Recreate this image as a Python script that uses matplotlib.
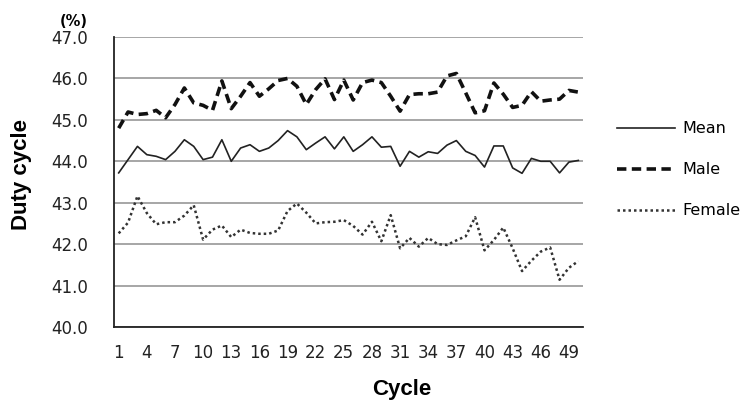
import numpy as np
import matplotlib
matplotlib.use("Agg")
import matplotlib.pyplot as plt

# ---- data ----
cycles = np.arange(1, 51)

mean = [43.72, 44.04, 44.36, 44.16, 44.12, 44.04, 44.24, 44.52, 44.36, 44.04,
        44.10, 44.52, 44.00, 44.32, 44.40, 44.24, 44.32, 44.50, 44.74, 44.59,
        44.28, 44.44, 44.59, 44.30, 44.59, 44.24, 44.40, 44.59, 44.34, 44.36,
        43.88, 44.24, 44.10, 44.23, 44.19, 44.39, 44.50, 44.24, 44.14, 43.86,
        44.37, 44.37, 43.84, 43.71, 44.07, 44.00, 44.00, 43.72, 43.98, 44.02]

male = [44.80, 45.19, 45.13, 45.15, 45.23, 45.05, 45.37, 45.77, 45.41, 45.35,
        45.23, 45.94, 45.27, 45.57, 45.90, 45.57, 45.75, 45.95, 46.00, 45.81,
        45.37, 45.73, 45.99, 45.49, 45.96, 45.48, 45.90, 45.96, 45.90, 45.57,
        45.21, 45.61, 45.63, 45.63, 45.67, 46.06, 46.12, 45.65, 45.17, 45.22,
        45.89, 45.62, 45.30, 45.35, 45.68, 45.45, 45.48, 45.50, 45.71, 45.67]

female = [42.26, 42.52, 43.16, 42.75, 42.48, 42.53, 42.53, 42.69, 42.94, 42.11,
          42.35, 42.45, 42.17, 42.35, 42.27, 42.25, 42.25, 42.33, 42.80, 42.98,
          42.76, 42.50, 42.53, 42.54, 42.58, 42.44, 42.23, 42.54, 42.07, 42.70,
          41.90, 42.15, 41.94, 42.15, 42.00, 41.98, 42.09, 42.19, 42.65, 41.85,
          42.10, 42.40, 41.90, 41.35, 41.60, 41.82, 41.92, 41.14, 41.43, 41.59]

yticks = np.arange(40, 48)
xticks = cycles[::3]

# ---- figure ----
W, H = 749, 403
fig = plt.figure(figsize=(W / 100, H / 100), dpi=100)
ax = fig.add_axes([114 / W, 1 - 327 / H, (583 - 114) / W, (327 - 37) / H])

ln_mean, = ax.plot(cycles, mean, color="#222222", lw=1.2, label="Mean")
ln_male, = ax.plot(cycles, male, color="#111111", lw=2.6, dashes=(2.6, 1.5), label="Male")
ln_fem, = ax.plot(cycles, female, color="#333333", lw=1.8, dashes=(1, 1.2), label="Female")

ax.set_xlim(0.5, 50.5)
ax.set_ylim(40, 47)
ax.set_yticks(yticks)
ax.set_yticklabels([f"{v:.1f}" for v in yticks])
ax.set_xticks(xticks)
ax.yaxis.grid(True, color="#a6a6a6", lw=1.4)
ax.set_axisbelow(True)
for s in ("top", "right"):
    ax.spines[s].set_visible(False)
for s in ("left", "bottom"):
    ax.spines[s].set_color("#222222")
    ax.spines[s].set_linewidth(1.3)
ax.tick_params(axis="y", length=0, pad=18.5, labelsize=12, labelcolor="#222222")
ax.tick_params(axis="x", length=0, pad=12, labelsize=12, labelcolor="#222222")

fig.text(22 / W, 1 - 175 / H, "Duty cycle", ha="center", va="center", rotation=90,
         fontsize=16, fontweight="bold", family="Liberation Sans")
fig.text(402 / W, 1 - 390 / H, "Cycle", ha="center", va="center",
         fontsize=16, fontweight="bold", family="Liberation Sans")
fig.text(88 / W, 1 - 21 / H, "(%)", ha="right", va="center", fontsize=10.5, fontweight="bold")

fig.legend(handles=[ln_mean, ln_male, ln_fem], loc="upper left",
           bbox_to_anchor=(603 / W, 1 - 107 / H), frameon=False,
           fontsize=11.5, handlelength=3.6, handletextpad=0.45, labelspacing=1.62)

fig.savefig("out.png", dpi=100)
